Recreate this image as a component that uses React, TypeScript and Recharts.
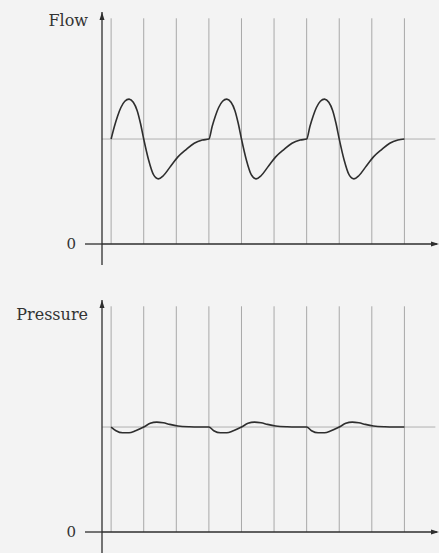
import { LineChart, Line, XAxis, YAxis, ReferenceLine, ReferenceDot } from "recharts"

// time in grid-line units (one vertical line per unit)
const flowTime = [
  0, 0.1, 0.2, 0.3, 0.42, 0.55, 0.68, 0.8, 0.9, 1, 1.15, 1.3, 1.45, 1.6, 1.8, 2.05, 2.3, 2.55, 2.8,
  3, 3.1, 3.2, 3.3, 3.42, 3.55, 3.68, 3.8, 3.9, 4, 4.15, 4.3, 4.45, 4.6, 4.8, 5.05, 5.3, 5.55, 5.8,
  6, 6.1, 6.2, 6.3, 6.42, 6.55, 6.68, 6.8, 6.9, 7, 7.15, 7.3, 7.45, 7.6, 7.8, 8.05, 8.3, 8.55, 8.8, 9,
]
const flowValues = [
  1.0, 1.12, 1.22, 1.3, 1.36, 1.38, 1.35, 1.27, 1.15, 1.0, 0.8, 0.66, 0.62, 0.65, 0.73, 0.83, 0.9, 0.96, 0.99,
  1.0, 1.12, 1.22, 1.3, 1.36, 1.38, 1.35, 1.27, 1.15, 1.0, 0.8, 0.66, 0.62, 0.65, 0.73, 0.83, 0.9, 0.96, 0.99,
  1.0, 1.12, 1.22, 1.3, 1.36, 1.38, 1.35, 1.27, 1.15, 1.0, 0.8, 0.66, 0.62, 0.65, 0.73, 0.83, 0.9, 0.96, 0.99, 1.0,
]

const pressureTime = [
  0, 0.15, 0.35, 0.55, 0.75, 1, 1.2, 1.4, 1.6, 1.8, 2.05, 2.4, 2.7,
  3, 3.15, 3.35, 3.55, 3.75, 4, 4.2, 4.4, 4.6, 4.8, 5.05, 5.4, 5.7,
  6, 6.15, 6.35, 6.55, 6.75, 7, 7.2, 7.4, 7.6, 7.8, 8.05, 8.4, 8.7, 9,
]
const pressureValues = [
  1.0, 0.965, 0.945, 0.945, 0.965, 1.0, 1.035, 1.047, 1.04, 1.025, 1.01, 1.002, 1.0,
  1.0, 0.965, 0.945, 0.945, 0.965, 1.0, 1.035, 1.047, 1.04, 1.025, 1.01, 1.002, 1.0,
  1.0, 0.965, 0.945, 0.945, 0.965, 1.0, 1.035, 1.047, 1.04, 1.025, 1.01, 1.002, 1.0, 1.0,
]

const gridTimes = [0, 1, 2, 3, 4, 5, 6, 7, 8, 9]
const baseline = 1
const xDomain: [number, number] = [-0.28, 10]
const yDomain: [number, number] = [-0.2, 2.21]
const gridTop = 2.15

const FONT = "'DejaVu Serif', serif"
const GRID = "#a8a8a8"
const INK = "#2e2e2e"

const UpArrow = (props: any) => {
  const { cx, cy } = props
  return <path d={`M${cx},${cy} L${cx - 2.5},${cy + 8} L${cx + 2.5},${cy + 8} Z`} fill={INK} />
}

const RightArrow = (props: any) => {
  const { cx, cy } = props
  return <path d={`M${cx + 2},${cy} L${cx - 6},${cy - 2.5} L${cx - 6},${cy + 2.5} Z`} fill={INK} />
}

function WaveChart({
  title,
  time,
  values,
  height,
  top,
  bottom,
  labelY,
}: {
  title: string
  time: number[]
  values: number[]
  height: number
  top: number
  bottom: number
  labelY: number
}) {
  const data = time.map((t, i) => ({ t, v: values[i] }))
  return (
    <LineChart width={439} height={height} data={data} margin={{ top, right: 2, bottom, left: 0 }}>
      <XAxis type="number" dataKey="t" domain={xDomain} hide />
      <YAxis
        type="number"
        domain={yDomain}
        ticks={[0]}
        width={102}
        tickSize={17}
        tickMargin={9}
        axisLine={{ stroke: INK, strokeWidth: 1.3 }}
        tickLine={{ stroke: INK, strokeWidth: 1.3 }}
        tick={{ fill: "#333", fontFamily: FONT, fontSize: 15 }}
        label={{
          content: ({ viewBox }: any) => (
            <text
              x={viewBox.x + viewBox.width - 14}
              y={viewBox.y + labelY}
              textAnchor="end"
              fill="#333"
              fontFamily={FONT}
              fontSize={16}
            >
              {title}
            </text>
          ),
        }}
      />
      {gridTimes.map((x) => (
        <ReferenceLine
          key={x}
          segment={[
            { x, y: 0 },
            { x, y: gridTop },
          ]}
          stroke={GRID}
          strokeWidth={1}
        />
      ))}
      <ReferenceLine
        segment={[
          { x: xDomain[0], y: baseline },
          { x: 9.95, y: baseline },
        ]}
        stroke={GRID}
        strokeWidth={0.9}
      />
      <ReferenceLine y={0} stroke={INK} strokeWidth={1.3} />
      <ReferenceDot x={xDomain[0]} y={yDomain[1]} r={3} shape={UpArrow} />
      <ReferenceDot x={xDomain[1]} y={0} r={3} shape={RightArrow} />
      <Line
        type="monotone"
        dataKey="v"
        stroke={INK}
        strokeWidth={1.6}
        dot={false}
        isAnimationActive={false}
      />
    </LineChart>
  )
}

export default function App() {
  return (
    <div style={{ position: "absolute", left: 0, top: 0, width: 439, height: 553, background: "#f3f3f3" }}>
      <WaveChart title="Flow" time={flowTime} values={flowValues} height={276} top={12} bottom={11} labelY={14} />
      <WaveChart title="Pressure" time={pressureTime} values={pressureValues} height={277} top={24} bottom={0} labelY={20} />
    </div>
  )
}
